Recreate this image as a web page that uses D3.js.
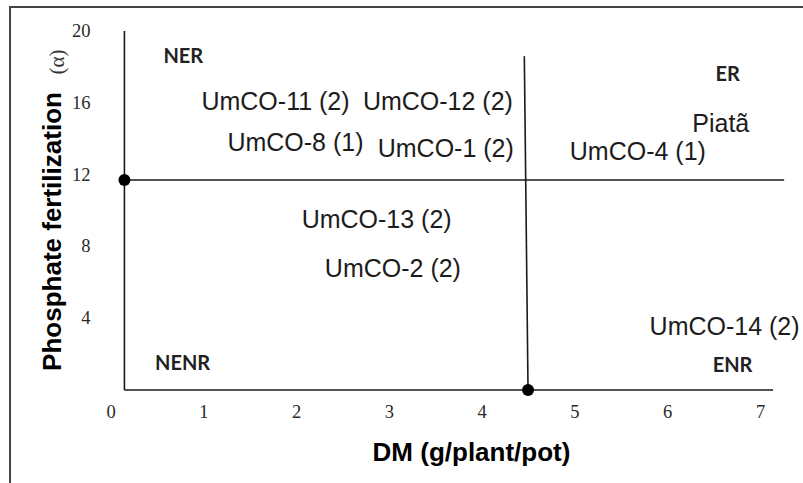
<!DOCTYPE html>
<html>
<head>
<meta charset="utf-8">
<script src="https://cdn.jsdelivr.net/npm/d3@7/dist/d3.min.js"></script>
<style>
  html, body { margin: 0; padding: 0; background: #fff; }
  svg { display: block; }
  .tick text { font-family: "Liberation Serif", "Times New Roman", serif; font-size: 18.5px; fill: #2a2a2a; }
  .lbl { font-family: "Liberation Sans", Arial, sans-serif; font-size: 25px; fill: #1c1c1c; }
  .quad { font-family: Lato, "Open Sans", sans-serif; font-weight: 700; font-size: 20px; fill: #222; }
  .title { font-family: "Liberation Sans", Arial, sans-serif; font-weight: 700; font-size: 26px; fill: #000; }
</style>
</head>
<body>
<div id="chart"></div>
<script>
// data: genotype labels (anchored at text start / baseline, in axis units)
const genotypes = ['UmCO-11 (2)', 'UmCO-12 (2)', 'UmCO-8 (1)', 'UmCO-1 (2)', 'UmCO-4 (1)', 'Piatã', 'UmCO-13 (2)', 'UmCO-2 (2)', 'UmCO-14 (2)'];
const dmValues = [0.98, 2.72, 1.26, 2.88, 4.95, 6.27, 2.06, 2.31, 5.81];
const pValues = [15.6, 15.6, 13.3, 13.0, 12.8, 14.4, 9.0, 6.3, 3.05];

// quadrant labels
const quadrants = ['NER', 'ER', 'NENR', 'ENR'];
const quadX = [0.57, 6.52, 0.48, 6.49];
const quadY = [18.2, 17.2, 1.1, 1.0];

// ticks
const xTicks = [0, 1, 2, 3, 4, 5, 6, 7];
const yTicks = [4, 8, 12, 16, 20];

// averages splitting the quadrants
const meanDM = 4.5;
const meanP = 11.7;
const axisStart = 0.15;

const W = 803,
      H = 483;

const margins = { top: 31, left: 110.5 };
const width = 649.5,
      height = 359;

const x = d3.scaleLinear().domain([0, 7]).range([0, width]);
const y = d3.scaleLinear().domain([0, 20]).range([height, 0]);

const svg = d3.select('#chart').append('svg')
  .attr('width', W)
  .attr('height', H);

// outer frame
svg.append('rect')
  .attr('x', 10).attr('y', 7)
  .attr('width', W + 20).attr('height', H + 20)
  .attr('fill', 'none')
  .attr('stroke', '#444')
  .attr('stroke-width', 2);

const g = svg.append('g')
  .attr('transform', `translate(${margins.left}, ${margins.top})`);

// axes (labels only, lines drawn separately)
const xAxis = d3.axisBottom(x).tickValues(xTicks).tickSize(0).tickPadding(15).tickFormat(d3.format('d'));
const yAxis = d3.axisLeft(y).tickValues(yTicks).tickSize(0).tickPadding(34).tickFormat(d3.format('d'));

g.append('g')
  .attr('transform', `translate(0, ${y(0)})`)
  .call(xAxis)
  .call(s => s.select('.domain').remove());

g.append('g')
  .attr('transform', `translate(${x(axisStart)}, 0)`)
  .call(yAxis)
  .call(s => s.select('.domain').remove())
  .call(s => s.selectAll('.tick text').attr('dy', '0.3em'));

const lineStyle = sel => sel.attr('stroke', '#1a1a1a').attr('stroke-width', 1.6).attr('fill', 'none');

// left and bottom axis lines
g.append('line')
  .attr('x1', x(axisStart)).attr('x2', x(axisStart))
  .attr('y1', y(20)).attr('y2', y(0))
  .call(lineStyle);

g.append('line')
  .attr('x1', x(axisStart)).attr('x2', x(7.14))
  .attr('y1', y(0)).attr('y2', y(0))
  .call(lineStyle);

// mean lines
g.append('line')
  .attr('x1', x(axisStart)).attr('x2', x(7.26))
  .attr('y1', y(meanP)).attr('y2', y(meanP))
  .call(lineStyle);

g.append('line')
  .attr('x1', x(meanDM - 0.04)).attr('x2', x(meanDM))
  .attr('y1', y(18.6)).attr('y2', y(0))
  .call(lineStyle);

// dots where mean lines meet axes
g.selectAll('.dot')
  .data([[axisStart, meanP], [meanDM, 0]])
  .enter()
  .append('circle')
  .classed('dot', true)
  .attr('cx', d => x(d[0]))
  .attr('cy', d => y(d[1]))
  .attr('r', 6)
  .attr('fill', '#000');

// quadrant labels
g.selectAll('.quad')
  .data(quadrants)
  .enter()
  .append('text')
  .classed('quad', true)
  .attr('x', (d, i) => x(quadX[i]))
  .attr('y', (d, i) => y(quadY[i]))
  .text(d => d);

// genotype labels
g.selectAll('.lbl')
  .data(genotypes)
  .enter()
  .append('text')
  .classed('lbl', true)
  .attr('x', (d, i) => x(dmValues[i]))
  .attr('y', (d, i) => y(pValues[i]))
  .text(d => d);

// axis titles
svg.append('text')
  .classed('title', true)
  .attr('x', 471.5)
  .attr('y', 461)
  .attr('text-anchor', 'middle')
  .text('DM (g/plant/pot)');

svg.append('text')
  .classed('title', true)
  .attr('transform', 'translate(61, 231.5) rotate(-90)')
  .attr('text-anchor', 'middle')
  .text('Phosphate fertilization');

svg.append('text')
  .attr('transform', 'translate(64, 62) rotate(-90)')
  .attr('text-anchor', 'middle')
  .attr('font-family', '"Liberation Serif", serif')
  .attr('font-size', 21)
  .attr('fill', '#333')
  .text('(α)');
</script>
</body>
</html>
